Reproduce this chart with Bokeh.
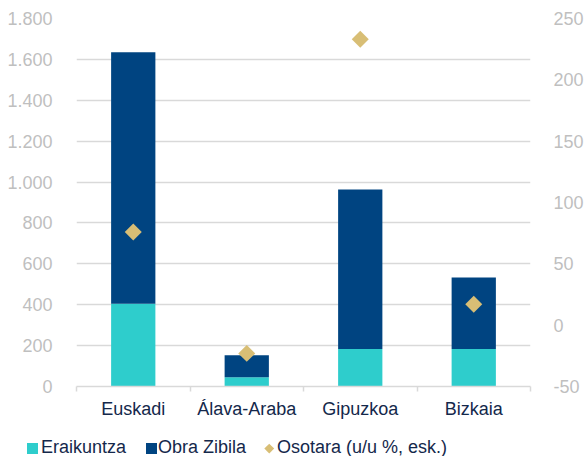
import numpy as np
from bokeh.plotting import figure
from bokeh.layouts import column
from bokeh.models import (ColumnDataSource, Range1d, LinearAxis, FixedTicker,
                          CustomJSTickFormatter, Div)
from bokeh.embed import file_html
from bokeh.resources import INLINE

# ---- data ----
categories = ["Euskadi", "Álava-Araba", "Gipuzkoa", "Bizkaia"]
eraikuntza = [405, 45, 183, 183]
obra_zibila = [1230, 108, 780, 350]
osotara = [76, -23, 233, 17]
left_ticks = [0, 200, 400, 600, 800, 1000, 1200, 1400, 1600, 1800]
right_ticks = [-50, 0, 50, 100, 150, 200, 250]
legend_labels = ["Eraikuntza", "Obra Zibila", "Osotara (u/u %, esk.)"]

C_ERAI = "#2ECDCC"
C_OBRA = "#004481"
C_OSO = "#D8BE75"
C_GRID = "#D9D9D9"
C_TICK = "#BFBFBF"
C_TEXT = "#14284B"
FONT = "Liberation Sans"
FS = "18px"

xpos = [i + 0.5 for i in range(len(categories))]
src = ColumnDataSource(dict(x=xpos, erai=eraikuntza, obra=obra_zibila, oso=osotara))

p = figure(width=587, height=428, output_backend="svg", toolbar_location=None,
           x_range=Range1d(0, len(categories)), y_range=Range1d(left_ticks[0], left_ticks[-1]),
           min_border_left=76, min_border_right=57, min_border_top=18, min_border_bottom=42,
           background_fill_color="white", border_fill_color="white")
p.outline_line_color = None
p.extra_y_ranges = {"right": Range1d(right_ticks[0], right_ticks[-1])}

# grid
p.xgrid.visible = False
p.ygrid.ticker = FixedTicker(ticks=left_ticks)
p.ygrid.grid_line_color = C_GRID
p.ygrid.grid_line_width = 1.5

# x axis
xa = p.xaxis[0]
xa.ticker = FixedTicker(ticks=xpos, minor_ticks=list(range(len(categories) + 1)))
xa.formatter = CustomJSTickFormatter(args=dict(names=categories),
                                     code="return names[Math.floor(tick)]")
xa.axis_line_color = C_GRID
xa.axis_line_width = 1.5
xa.major_tick_out = 0
xa.major_tick_in = 0
xa.minor_tick_out = 5
xa.minor_tick_in = 0
xa.minor_tick_line_color = C_GRID
xa.minor_tick_line_width = 1.5
xa.major_label_text_font = FONT
xa.major_label_text_font_size = FS
xa.major_label_text_color = C_TEXT
xa.major_label_standoff = 7

# left axis
ya = p.yaxis[0]
ya.ticker = FixedTicker(ticks=left_ticks)
ya.formatter = CustomJSTickFormatter(
    code="return tick.toFixed(0).replace(/\\B(?=(\\d{3})+(?!\\d))/g, '.')")
ya.axis_line_color = None
ya.major_tick_line_color = None
ya.minor_tick_line_color = None
ya.major_label_text_font = FONT
ya.major_label_text_font_size = FS
ya.major_label_text_color = C_TICK
ya.major_label_standoff = 18

# right axis
ra = LinearAxis(y_range_name="right", ticker=FixedTicker(ticks=right_ticks),
                formatter=CustomJSTickFormatter(code="return tick.toFixed(0)"))
ra.axis_line_color = None
ra.major_tick_line_color = None
ra.minor_tick_line_color = None
ra.major_label_text_font = FONT
ra.major_label_text_font_size = FS
ra.major_label_text_color = C_TICK
ra.major_label_standoff = 17
p.add_layout(ra, "right")

# bars
p.vbar_stack(["erai", "obra"], x="x", width=0.39, color=[C_ERAI, C_OBRA],
             line_color=None, source=src)
# diamonds
p.scatter(x="x", y="oso", y_range_name="right", source=src, marker="square",
          angle=np.pi / 4, size=12, fill_color=C_OSO, line_color=None)

# ---- legend strip (HTML) ----
swatch = [
    f'<span style="position:absolute;left:27px;top:15px;width:11px;height:11px;background:{C_ERAI};"></span>',
    f'<span style="position:absolute;left:146px;top:15px;width:10.5px;height:10.5px;background:{C_OBRA};"></span>',
    f'<span style="position:absolute;left:266px;top:16.5px;width:6.5px;height:6.5px;background:{C_OSO};transform:rotate(45deg);"></span>',
]
lefts = [41, 158, 277]
labels_html = "".join(
    f'<span style="position:absolute;left:{x}px;top:9px;line-height:20px;white-space:nowrap;">{t}</span>'
    for x, t in zip(lefts, legend_labels))
html = (f'<div style="position:relative;width:587px;height:28px;font-family:\'{FONT}\';'
        f'font-size:{FS};color:{C_TEXT};">' + "".join(swatch) + labels_html + '</div>')
leg = Div(text=html, width=587, height=28, margin=0)

layout = column(p, leg)
open("out.html", "w").write(file_html(layout, INLINE))
